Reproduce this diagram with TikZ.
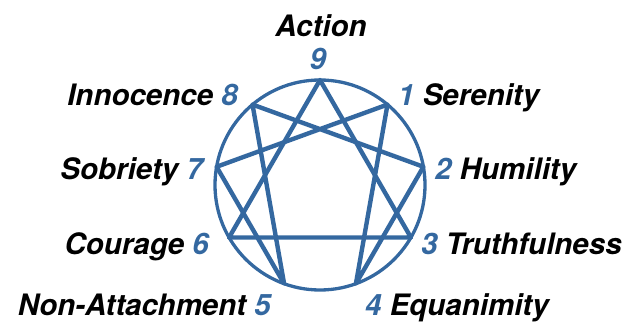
\documentclass[tikz,border=0pt]{standalone}
\usepackage{fontspec}
\setmainfont{TeX Gyre Heros}
\usepackage{xcolor}
\usepackage{tikz}
\usetikzlibrary{calc}
\definecolor{ennblue}{RGB}{52, 104, 160}
\tikzset{
    ring/.style  ={draw=ennblue, line width=3.3pt},
    star/.style  ={draw=ennblue, line width=4.4pt, line join=round},
    virtue/.style={font=\fontsize{29.5}{32}\selectfont\bfseries\itshape,
                   inner sep=0pt, text=black},
    num/.style   ={font=\fontsize{29.5}{32}\selectfont\bfseries\itshape,
                   inner sep=0pt, text=ennblue}
}
\newcommand{\nb}[1]{{\color{ennblue}#1}}

\begin{document}
\begin{tikzpicture}[x=1pt, y=1pt]
  \useasboundingbox (0,0) rectangle (623,324);
  \coordinate (c) at (320,139);
  \foreach \i in {0,...,8}
    \coordinate (v\i) at ($(c)+({90-40*\i}:105)$);

  \draw[ring] (c) circle[radius=105];
  % triangle 9-3-6 and the hexad 1-4-2-8-5-7
  \draw[star] (v0) -- (v3) -- (v6) -- cycle;
  \draw[star] (v1) -- (v4) -- (v2) -- (v8) -- (v5) -- (v7) -- cycle;

  \node[num, anchor=base]    (n9) at (318,254) {9};
  \node[virtue, anchor=base] (l9) at (321,287) {Action};
  \node[virtue, anchor=base east] (l8) at (238,218) {Innocence \nb{8}};
  \node[virtue, anchor=base west] (l1) at (398,218) {\nb{1} Serenity};
  \node[virtue, anchor=base west] (l2) at (435,144) {\nb{2} Humility};
  \node[virtue, anchor=base east] (l7) at (203,144) {Sobriety \nb{7}};
  \node[virtue, anchor=base west] (l3) at (421,70)  {\nb{3} Truthfulness};
  \node[virtue, anchor=base east] (l6) at (209,70)  {Courage \nb{6}};
  \node[virtue, anchor=base west] (l4) at (365,9)   {\nb{4} Equanimity};
  \node[virtue, anchor=base east] (l5) at (271,9)   {Non-Attachment \nb{5}};
\end{tikzpicture}
\end{document}
